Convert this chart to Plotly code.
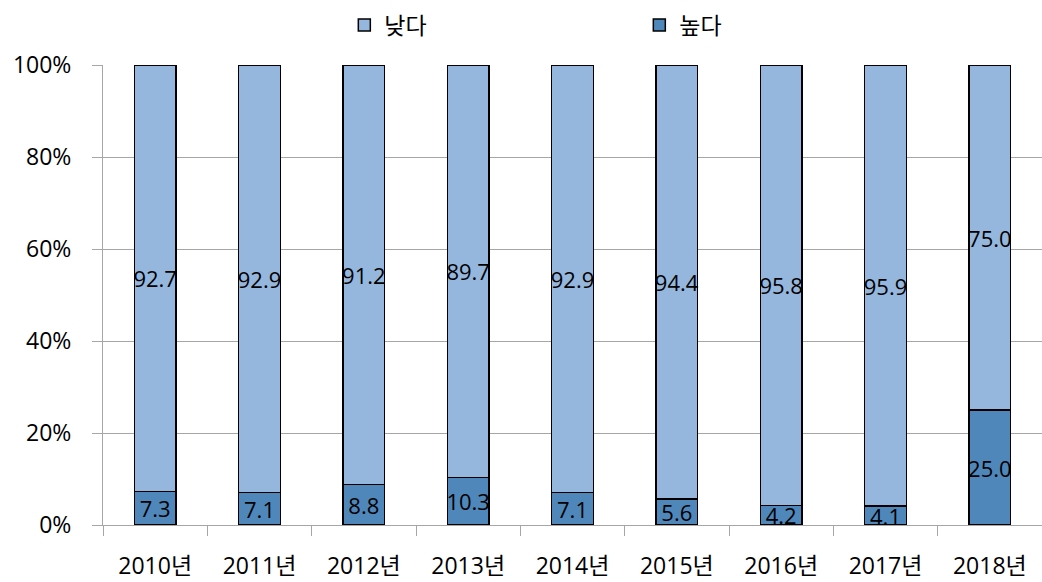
import plotly.graph_objects as go

years = ["2010년", "2011년", "2012년", "2013년", "2014년", "2015년", "2016년", "2017년", "2018년"]
low = [92.7, 92.9, 91.2, 89.7, 92.9, 94.4, 95.8, 95.9, 75.0]
high = [7.3, 7.1, 8.8, 10.3, 7.1, 5.6, 4.2, 4.1, 25.0]
ytick_vals = [0, 20, 40, 60, 80, 100]
ytick_text = ["0%", "20%", "40%", "60%", "80%", "100%"]

FONT = "Open Sans, Noto Sans CJK KR"

fig = go.Figure()
fig.add_trace(go.Bar(
    x=years, y=high, name="높다", legendrank=2,
    marker=dict(color="#4F87BB", line=dict(color="black", width=1.5)),
    text=[f"{v:.1f}" for v in high], textposition="inside", insidetextanchor="middle",
    textangle=0, constraintext="none", textfont=dict(color="black", size=22, family=FONT),
))
fig.add_trace(go.Bar(
    x=years, y=low, name="낮다", legendrank=1,
    marker=dict(color="#95B7DE", line=dict(color="black", width=1.5)),
    text=[f"{v:.1f}" for v in low], textposition="inside", insidetextanchor="middle",
    textangle=0, constraintext="none", textfont=dict(color="black", size=22, family=FONT),
))

fig.update_layout(
    barmode="stack",
    bargap=0.6,
    width=1042, height=582,
    margin=dict(l=103, r=0, t=65, b=57, autoexpand=False),
    paper_bgcolor="white", plot_bgcolor="white",
    font=dict(family=FONT, size=22, color="black"),
    legend=dict(orientation="h", x=0.257, xanchor="left", y=1.087, yanchor="middle",
                traceorder="normal", font=dict(size=23), itemwidth=30, entrywidth=250),
    uniformtext=dict(mode=False),
)
fig.update_xaxes(
    categoryorder="array", categoryarray=years,
    showline=True, linecolor="#A6A6A6", linewidth=1,
    ticks="outside", tickson="boundaries", ticklen=10, tickcolor="#A6A6A6",
    tickfont=dict(size=23), showgrid=False, ticklabelstandoff=20,
)
fig.update_yaxes(
    range=[0, 100], tickvals=ytick_vals, ticktext=ytick_text,
    showgrid=True, gridcolor="#A6A6A6", gridwidth=1,
    showline=True, linecolor="#A6A6A6", linewidth=1,
    ticks="outside", ticklen=10, tickcolor="#A6A6A6",
    tickfont=dict(size=23), zeroline=False, ticklabelstandoff=16,
)

fig.write_html("out.html", config={"displayModeBar": False},
               post_script="document.body.style.margin='0';")
